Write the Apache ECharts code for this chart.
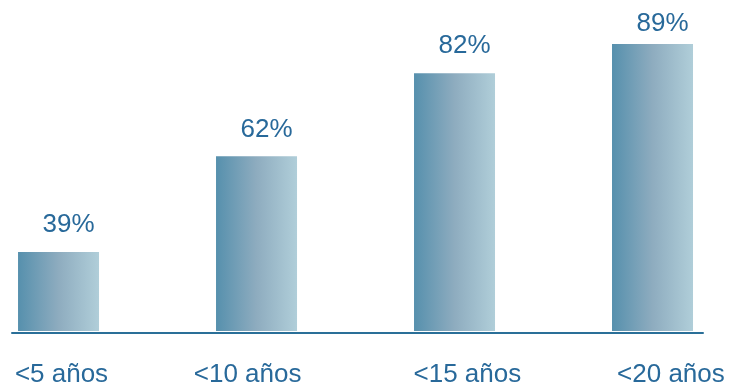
<!DOCTYPE html>
<html>
<head>
<meta charset="utf-8">
<script src="https://cdn.jsdelivr.net/npm/echarts@6/dist/echarts.min.js"></script>
<style>
  html, body { margin: 0; padding: 0; background: #ffffff; }
  #chart { width: 730px; height: 387px; }
</style>
</head>
<body>
<div id="chart"></div>
<script>
// Share of cases by time span
const categories = ['<5 años', '<10 años', '<15 años', '<20 años'];
const values = [39, 62, 82, 89];

const textColor = '#28699a';
const font = '"Liberation Sans", Arial, sans-serif';

// caption nudges, in fractions of one category step
const captionShift = [0.015, -0.045, 0.065, 0.093];
// value-label spacing above each bar
const labelGap = [14, 14, 14, 7];

const chart = echarts.init(document.getElementById('chart'));

chart.setOption({
  animation: false,
  grid: { left: 12, right: 27, top: 0, bottom: 56, outerBoundsMode: 'none' },
  xAxis: {
    // categories laid out on a numeric axis so the baseline can run past the outer bars
    type: 'value',
    min: -0.235,
    max: 3.255,
    offset: 2,
    axisLine: { show: true, onZero: false, lineStyle: { color: '#2a6f98', width: 2 } },
    axisTick: { show: false },
    splitLine: { show: false },
    axisLabel: {
      customValues: categories.map((c, i) => i + captionShift[i]),
      formatter: v => categories[Math.round(v)],
      color: textColor,
      fontFamily: font,
      fontSize: 26,
      margin: 29,
      showMinLabel: true,
      showMaxLabel: true
    }
  },
  yAxis: {
    type: 'value',
    min: 20,
    max: 99.6,
    show: false
  },
  series: [
    {
      type: 'bar',
      clip: true,
      barWidth: 81,
      data: values.map((v, i) => ({
        value: [i, v],
        label: { distance: labelGap[i] }
      })),
      itemStyle: {
        color: new echarts.graphic.LinearGradient(0, 0, 1, 0, [
          { offset: 0, color: '#5690ad' },
          { offset: 0.5, color: '#8eacbf' },
          { offset: 1, color: '#b0ced9' }
        ])
      },
      label: {
        show: true,
        position: 'top',
        offset: [10, 0],
        formatter: p => p.value[1] + '%',
        color: textColor,
        fontFamily: font,
        fontSize: 26
      }
    }
  ]
});
</script>
</body>
</html>
